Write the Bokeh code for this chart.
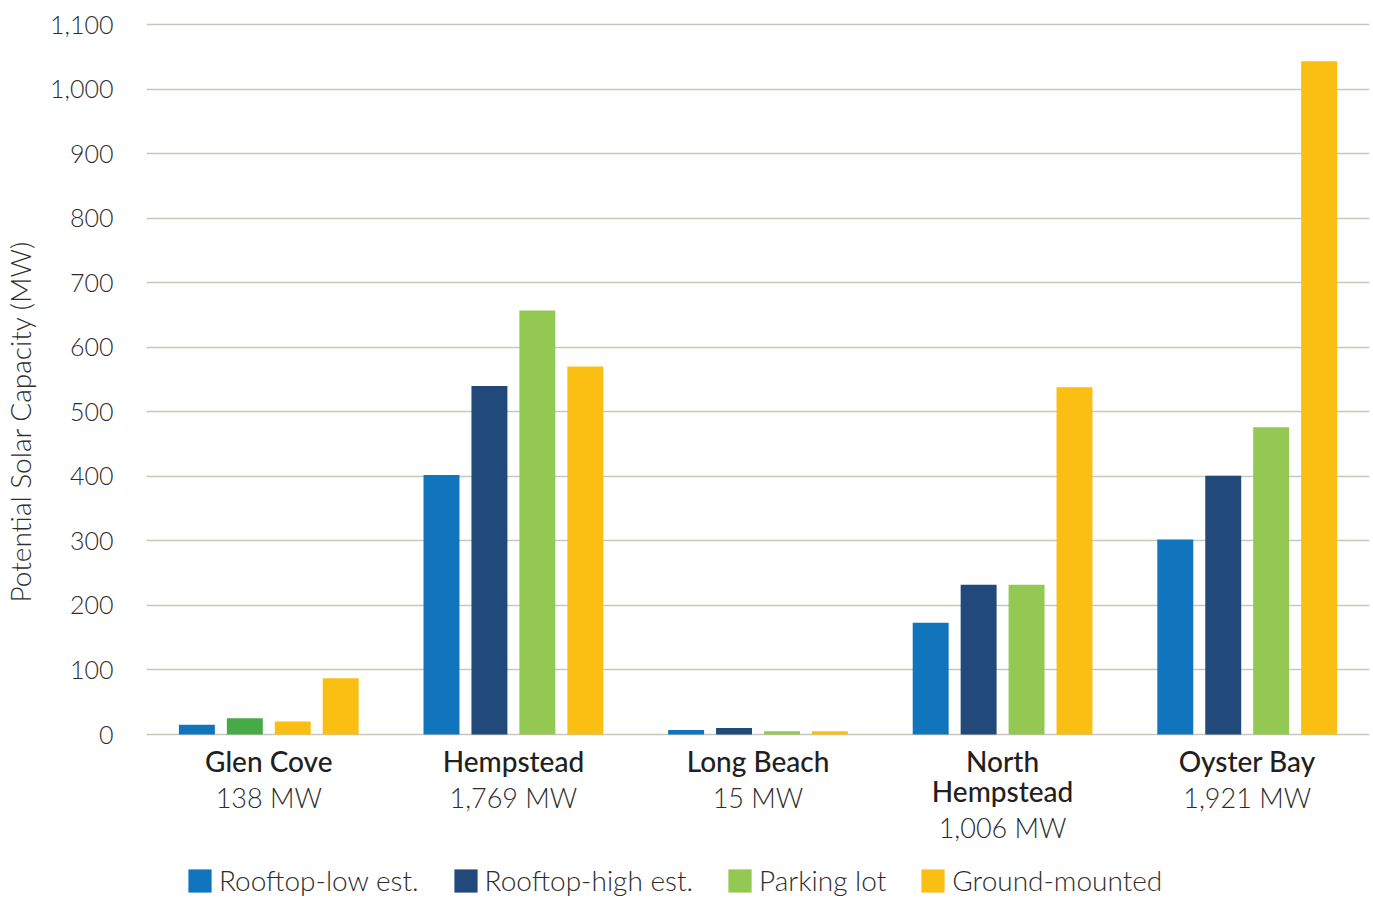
from bokeh.plotting import figure
from bokeh.models import (ColumnDataSource, Range1d, Legend, LegendItem,
                          SingleIntervalTicker, NumeralTickFormatter)
from bokeh.core.properties import value
from bokeh.embed import file_html
from bokeh.resources import INLINE

# ---------------- data ----------------
towns = ["Glen Cove", "Hempstead", "Long Beach", "North\nHempstead", "Oyster Bay"]
totals = ["138 MW", "1,769 MW", "15 MW", "1,006 MW", "1,921 MW"]
series = ["Rooftop-low est.", "Rooftop-high est.", "Parking lot", "Ground-mounted"]
rooftop_low = [15, 402, 7, 173, 302]
rooftop_high = [25, 540, 10, 232, 401]
parking_lot = [20, 657, 5, 232, 476]
ground_mounted = [87, 570, 5, 538, 1043]
series_values = [rooftop_low, rooftop_high, parking_lot, ground_mounted]
series_colors = ["#1175BD", "#21497A", "#93C853", "#FBBF14"]
glen_cove_colors = ["#1175BD", "#46AA47", "#FBBF14", "#FBBF14"]
y_max = 1100
y_step = 100
y_title = "Potential Solar Capacity (MW)"

# ---------------- layout constants ----------------
FRAME_W, FRAME_H = 1223, 898
TOP_PAD = 24          # px between frame top and the y_max gridline
ZERO_Y = 734          # px of the zero line from the top of the frame
px_per_unit = (ZERO_Y - TOP_PAD) / y_max
y_start = -(FRAME_H - ZERO_Y) / px_per_unit
y_end = y_max + TOP_PAD / px_per_unit

LIGHT_S = "Lato Light, Lato"
MEDIUM_S = "Lato Medium, Lato Semibold, Lato"
LIGHT = value(LIGHT_S)
MEDIUM = value(MEDIUM_S)
TXT = "#2d2d2d"

p = figure(frame_width=FRAME_W, frame_height=FRAME_H,
           x_range=Range1d(0, len(towns)), y_range=Range1d(y_start, y_end),
           x_axis_type=None, output_backend="svg", toolbar_location=None,
           min_border_left=145, min_border_right=5, min_border_top=0,
           min_border_bottom=0, outline_line_color=None,
           background_fill_color="white", border_fill_color="white")

pitch = 0.196
bar_w = 0.147
renderers = []
for i, (name, vals, col) in enumerate(zip(series, series_values, series_colors)):
    xs = [k + 0.5 + (i - 1.5) * pitch for k in range(len(towns))]
    cols = [glen_cove_colors[i] if k == 0 else col for k in range(len(towns))]
    src = ColumnDataSource(dict(x=xs, top=vals, color=cols))
    r = p.vbar(x="x", top="top", bottom=0, width=bar_w, source=src,
               fill_color="color", line_color=None)
    renderers.append(r)

# category labels
nlines = [t.count("\n") + 1 for t in towns]
lab_src = ColumnDataSource(dict(
    x=[k + 0.5 for k in range(len(towns))], y=[0] * len(towns), name=towns,
    total=totals, off2=[46 + 30 * (n - 1) for n in nlines]))
p.text(x="x", y="y", text="name", source=lab_src, text_align="center",
       text_baseline="top", y_offset=9, text_font=MEDIUM,
       text_font_size="28px", text_color="#231f20", text_line_height=0.9)
p.text(x="x", y="y", text="total", source=lab_src, text_align="center",
       text_baseline="top", y_offset="off2", text_font=LIGHT,
       text_font_size="27px", text_color=TXT)

# y axis
ax = p.yaxis[0]
ax.ticker = SingleIntervalTicker(interval=y_step)
ax.bounds = (0, y_max)
ax.formatter = NumeralTickFormatter(format="0,0")
ax.axis_line_color = None
ax.major_tick_line_color = None
ax.minor_tick_line_color = None
ax.major_label_standoff = 27
ax.major_label_text_font = LIGHT_S
ax.major_label_text_font_size = "25px"
ax.major_label_text_color = TXT
# leading spaces lift the centred title to where the reference shows it
ax.axis_label = "\u2003\u2003\u2002" + y_title
ax.axis_label_text_font = LIGHT_S
ax.axis_label_text_font_style = "normal"
ax.axis_label_text_font_size = "28px"
ax.axis_label_text_color = TXT
ax.axis_label_standoff = 10

p.ygrid.grid_line_color = "#c6c7bd"
p.ygrid.grid_line_width = 1.5
p.xgrid.grid_line_color = None

legend = Legend(items=[LegendItem(label=s, renderers=[r], index=1)
                       for s, r in zip(series, renderers)],
                orientation="horizontal", location=(39, 1),
                glyph_width=29, glyph_height=29, label_standoff=5, spacing=32,
                label_height=22,
                label_text_font=LIGHT_S, label_text_font_size="28px",
                label_text_color=TXT, padding=2, margin=0,
                border_line_color=None, background_fill_alpha=0)
p.add_layout(legend)

open("out.html", "w").write(file_html(p, INLINE))
